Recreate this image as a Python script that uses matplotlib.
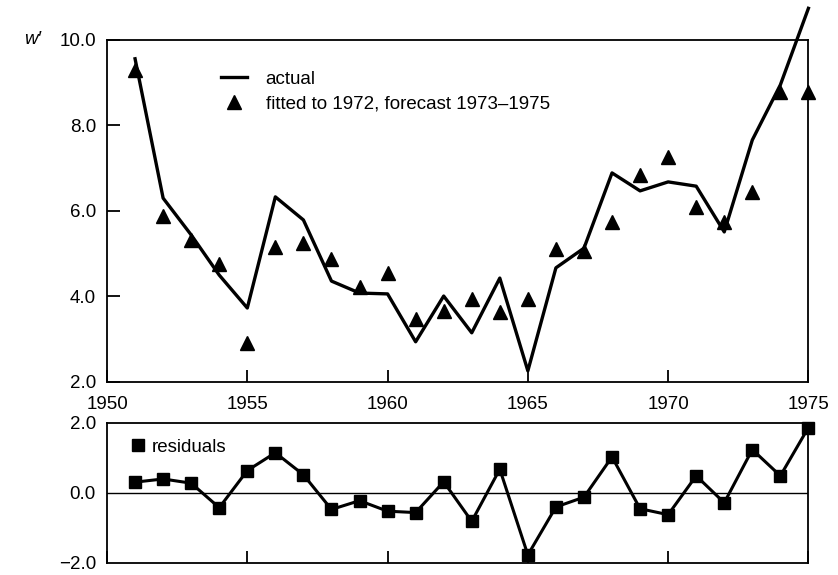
import matplotlib
matplotlib.use("Agg")
import matplotlib.pyplot as plt
from matplotlib.lines import Line2D

plt.rcParams['font.family'] = ['Liberation Sans', 'DejaVu Sans']

years = list(range(1951, 1976))
actual = [9.56, 6.30, 5.44, 4.50, 3.73, 6.33, 5.79, 4.36, 4.08, 4.06, 2.94,
          4.01, 3.15, 4.43, 2.26, 4.67, 5.13, 6.89, 6.47, 6.68, 6.58, 5.51,
          7.66, 8.95, 10.74]
fitted = [9.30, 5.88, 5.32, 4.75, 2.92, 5.16, 5.24, 4.88, 4.22, 4.55, 3.48,
          3.66, 3.93, 3.64, 3.94, 5.10, 5.07, 5.75, 6.85, 7.27, 6.10, 5.75,
          6.45, 8.79, 8.79]
residuals = [0.31, 0.40, 0.28, -0.42, 0.64, 1.15, 0.52, -0.47, -0.22, -0.52,
             -0.56, 0.32, -0.81, 0.68, -1.77, -0.40, -0.12, 1.03, -0.45, -0.62,
             0.49, -0.28, 1.24, 0.49, 1.87]
xticks = [1950, 1955, 1960, 1965, 1970, 1975]
top_yticks = [2.0, 4.0, 6.0, 8.0, 10.0]
bot_yticks = [-2.0, 0.0, 2.0]

fig = plt.figure(figsize=(8.38, 5.75), dpi=100)
ax1 = fig.add_axes([0.1277, 0.3357, 0.837, 0.5948])
ax2 = fig.add_axes([0.1277, 0.0209, 0.837, 0.2435])

fs = 13.5
for ax in (ax1, ax2):
    for s in ax.spines.values():
        s.set_linewidth(1.3)
    ax.tick_params(direction='in', length=9, width=1.3, labelsize=fs)
    ax.set_xlim(1950, 1975)

ax1.plot(years, actual, color='black', lw=2.4, clip_on=False, zorder=3)
ax1.plot(years, fitted, linestyle='none', marker='^', color='black',
         markersize=10.5, clip_on=False, zorder=4)
ax1.set_ylim(2.0, 10.0)
ax1.set_yticks(top_yticks)
ax1.set_yticklabels([f"{v:.1f}" for v in top_yticks])
ax1.set_xticks(xticks)
ax1.set_xticklabels([str(v) for v in xticks])
ax1.tick_params(axis='y', pad=8)
ax1.tick_params(axis='x', pad=10)
ax1.text(-0.118, 1.0, "w′", transform=ax1.transAxes, fontsize=fs,
         style='italic', ha='left', va='center')

h1 = Line2D([], [], color='black', lw=2.4)
h2 = Line2D([], [], linestyle='none', marker='^', color='black', markersize=10.5)
ax1.legend([h1, h2], ["actual", "fitted to 1972, forecast 1973–1975"],
           loc='upper left', bbox_to_anchor=(0.138, 0.96), frameon=False,
           fontsize=fs, handlelength=1.4, handletextpad=1.0, labelspacing=0.4)

ax2.plot(years, residuals, color='black', lw=2.2, marker='s', markersize=8,
         clip_on=False, zorder=4)
ax2.axhline(0, color='black', lw=1.0)
ax2.set_ylim(-2.0, 2.0)
ax2.set_yticks(bot_yticks)
ax2.set_yticklabels(["\u22122.0", "0.0", "2.0"])
ax2.tick_params(axis='y', length=0, pad=8)
ax2.set_xticks(xticks)
ax2.set_xticklabels([])
h3 = Line2D([], [], linestyle='none', marker='s', color='black', markersize=8)
ax2.legend([h3], ["residuals"], loc='upper left', bbox_to_anchor=(0.01, 1.01),
           frameon=False, fontsize=fs, handlelength=0.8, handletextpad=0.3)

fig.savefig("out.png", dpi=100)
